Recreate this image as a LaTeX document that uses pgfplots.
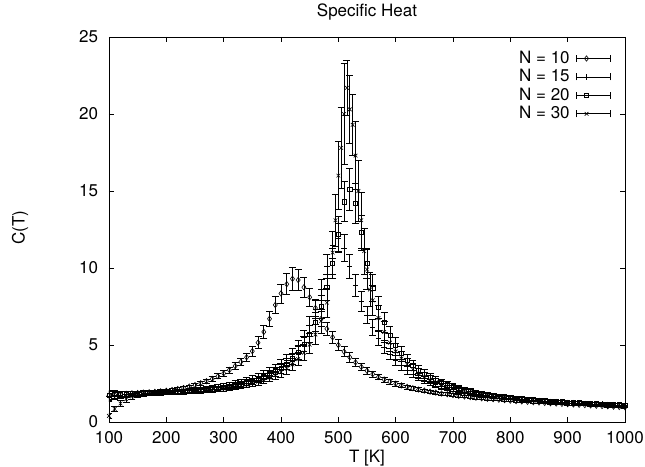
\documentclass[border=0pt]{standalone}
\usepackage{fontspec}
\setmainfont{TeX Gyre Heros}
\usepackage{pgfplots}
\usepackage{pgfplotstable}
\pgfplotsset{compat=1.18}

% N = 10
\pgfplotstableread{
T C e
100 1.72 0.30
110 1.76 0.26
120 1.80 0.22
130 1.83 0.19
140 1.86 0.16
150 1.88 0.14
160 1.91 0.12
170 1.93 0.11
180 1.96 0.10
190 1.99 0.10
200 2.03 0.10
210 2.08 0.10
220 2.14 0.10
230 2.21 0.11
240 2.30 0.11
250 2.40 0.12
260 2.52 0.13
270 2.65 0.14
280 2.80 0.15
290 2.97 0.16
300 3.16 0.18
310 3.38 0.20
320 3.63 0.22
330 3.90 0.25
340 4.20 0.29
350 4.60 0.33
360 5.15 0.38
370 5.85 0.43
380 6.70 0.49
390 7.60 0.56
400 8.35 0.62
410 8.95 0.68
420 9.30 0.72
430 9.22 0.70
440 8.75 0.66
450 8.10 0.60
460 7.40 0.55
470 6.70 0.50
480 6.05 0.45
490 5.50 0.41
500 5.00 0.37
510 4.57 0.33
520 4.20 0.30
530 3.87 0.27
540 3.58 0.24
550 3.33 0.22
560 3.11 0.20
570 2.92 0.18
580 2.76 0.17
590 2.62 0.16
600 2.49 0.15
610 2.38 0.14
620 2.28 0.13
630 2.19 0.12
640 2.11 0.12
650 2.04 0.11
660 1.97 0.11
670 1.91 0.10
680 1.85 0.10
690 1.80 0.10
700 1.75 0.09
710 1.70 0.09
720 1.66 0.09
730 1.62 0.08
740 1.58 0.08
750 1.54 0.08
760 1.51 0.08
770 1.48 0.07
780 1.45 0.07
790 1.42 0.07
800 1.39 0.07
810 1.36 0.07
820 1.34 0.07
830 1.31 0.06
840 1.29 0.06
850 1.27 0.06
860 1.24 0.06
870 1.22 0.06
880 1.20 0.06
890 1.18 0.06
900 1.16 0.06
910 1.14 0.06
920 1.12 0.05
930 1.10 0.05
940 1.08 0.05
950 1.06 0.05
960 1.04 0.05
970 1.02 0.05
980 1.00 0.05
990 0.98 0.05
1000 0.96 0.05
}\nten

% N = 15
\pgfplotstableread{
T C e
100 1.68 0.32
110 1.72 0.28
120 1.76 0.24
130 1.79 0.20
140 1.82 0.17
150 1.84 0.15
160 1.86 0.13
170 1.88 0.12
180 1.90 0.11
190 1.92 0.11
200 1.94 0.11
210 1.96 0.11
220 1.99 0.11
230 2.02 0.11
240 2.05 0.12
250 2.09 0.12
260 2.13 0.12
270 2.18 0.13
280 2.23 0.13
290 2.29 0.14
300 2.36 0.15
310 2.43 0.16
320 2.51 0.17
330 2.60 0.18
340 2.70 0.19
350 2.81 0.20
360 2.94 0.22
370 3.09 0.24
380 3.27 0.26
390 3.48 0.28
400 3.73 0.31
410 4.03 0.34
420 4.40 0.38
430 4.90 0.42
440 5.50 0.47
450 6.30 0.53
460 7.30 0.60
470 8.60 0.68
480 10.10 0.78
490 11.50 0.88
500 11.95 0.92
510 11.30 0.88
520 10.10 0.80
530 8.90 0.72
540 7.85 0.64
550 6.95 0.57
560 6.15 0.50
570 5.45 0.45
580 4.88 0.40
590 4.40 0.36
600 4.00 0.33
610 3.66 0.30
620 3.37 0.27
630 3.12 0.25
640 2.91 0.23
650 2.73 0.21
660 2.57 0.19
670 2.43 0.18
680 2.31 0.17
690 2.20 0.16
700 2.11 0.15
710 2.03 0.14
720 1.96 0.13
730 1.89 0.13
740 1.83 0.12
750 1.78 0.12
760 1.73 0.11
770 1.68 0.11
780 1.64 0.10
790 1.60 0.10
800 1.56 0.10
810 1.52 0.09
820 1.49 0.09
830 1.46 0.09
840 1.43 0.09
850 1.40 0.08
860 1.37 0.08
870 1.35 0.08
880 1.32 0.08
890 1.30 0.08
900 1.28 0.08
910 1.26 0.07
920 1.24 0.07
930 1.22 0.07
940 1.20 0.07
950 1.18 0.07
960 1.16 0.07
970 1.14 0.07
980 1.13 0.07
990 1.11 0.07
1000 1.10 0.07
}\nfifteen

% N = 20
\pgfplotstableread{
T C e
100 1.75 0.30
110 1.78 0.26
120 1.80 0.22
130 1.82 0.19
140 1.84 0.16
150 1.85 0.14
160 1.87 0.12
170 1.88 0.11
180 1.89 0.11
190 1.91 0.11
200 1.92 0.11
210 1.94 0.11
220 1.96 0.11
230 1.98 0.11
240 2.01 0.12
250 2.04 0.12
260 2.07 0.12
270 2.11 0.13
280 2.15 0.13
290 2.20 0.14
300 2.25 0.15
310 2.31 0.16
320 2.38 0.17
330 2.46 0.18
340 2.55 0.19
350 2.65 0.20
360 2.77 0.22
370 2.91 0.24
380 3.07 0.26
390 3.26 0.28
400 3.49 0.31
410 3.77 0.34
420 4.11 0.38
430 4.53 0.43
440 5.05 0.49
450 5.70 0.56
460 6.50 0.64
470 7.50 0.74
480 8.75 0.86
490 10.30 1.00
500 12.20 1.15
510 14.30 1.30
520 15.10 1.35
530 14.20 1.30
540 12.30 1.15
550 10.30 1.00
560 8.70 0.86
570 7.45 0.74
580 6.45 0.64
590 5.65 0.56
600 5.00 0.49
610 4.47 0.43
620 4.03 0.38
630 3.67 0.34
640 3.37 0.31
650 3.12 0.28
660 2.90 0.26
670 2.72 0.24
680 2.56 0.22
690 2.42 0.20
700 2.30 0.19
710 2.19 0.18
720 2.09 0.17
730 2.00 0.16
740 1.92 0.15
750 1.85 0.14
760 1.79 0.13
770 1.73 0.13
780 1.68 0.12
790 1.63 0.12
800 1.59 0.11
810 1.55 0.11
820 1.51 0.10
830 1.48 0.10
840 1.45 0.10
850 1.42 0.09
860 1.39 0.09
870 1.36 0.09
880 1.34 0.09
890 1.31 0.08
900 1.29 0.08
910 1.27 0.08
920 1.25 0.08
930 1.23 0.08
940 1.21 0.08
950 1.19 0.07
960 1.17 0.07
970 1.15 0.07
980 1.14 0.07
990 1.12 0.07
1000 1.11 0.07
}\ntwenty

% N = 30
\pgfplotstableread{
T C e
100 0.40 0.15
110 0.85 0.18
120 1.20 0.20
130 1.48 0.20
140 1.66 0.18
150 1.76 0.16
160 1.82 0.14
170 1.85 0.13
180 1.87 0.12
190 1.88 0.12
200 1.89 0.12
210 1.90 0.12
220 1.92 0.12
230 1.94 0.12
240 1.96 0.12
250 1.98 0.13
260 2.01 0.13
270 2.04 0.13
280 2.08 0.14
290 2.12 0.14
300 2.17 0.15
310 2.22 0.16
320 2.28 0.17
330 2.35 0.18
340 2.43 0.19
350 2.52 0.20
360 2.62 0.22
370 2.74 0.24
380 2.88 0.26
390 3.04 0.28
400 3.23 0.31
410 3.46 0.34
420 3.74 0.38
430 4.08 0.43
440 4.50 0.49
450 5.02 0.56
460 5.68 0.65
470 6.55 0.78
480 7.75 0.95
490 11.00 1.40
495 13.10 1.70
500 16.00 2.20
505 17.80 2.60
510 20.00 3.30
515 21.70 1.80
520 20.30 2.20
525 19.30 2.00
530 17.30 2.20
535 15.00 2.00
540 13.10 1.80
545 11.10 1.50
550 9.90 1.30
555 8.60 1.10
560 7.90 0.95
570 6.75 0.80
580 5.85 0.68
590 5.15 0.58
600 4.58 0.50
610 4.12 0.44
620 3.74 0.39
630 3.42 0.35
640 3.16 0.31
650 2.93 0.28
660 2.74 0.26
670 2.57 0.24
680 2.43 0.22
690 2.31 0.20
700 2.20 0.19
710 2.10 0.18
720 2.01 0.17
730 1.93 0.16
740 1.86 0.15
750 1.80 0.14
760 1.74 0.13
770 1.69 0.13
780 1.64 0.12
790 1.60 0.12
800 1.56 0.11
810 1.52 0.11
820 1.49 0.10
830 1.46 0.10
840 1.43 0.10
850 1.40 0.09
860 1.37 0.09
870 1.35 0.09
880 1.32 0.09
890 1.30 0.08
900 1.28 0.08
910 1.26 0.08
920 1.24 0.08
930 1.22 0.08
940 1.20 0.08
950 1.18 0.07
960 1.17 0.07
970 1.15 0.07
980 1.13 0.07
990 1.12 0.07
1000 1.10 0.07
}\nthirty

\pgfplotsset{
  ebar/.style={
    black, only marks, mark options={solid, line width=0.6pt},
    error bars/y dir=both, error bars/y explicit,
    error bars/error bar style={line width=0.7pt, black},
    error bars/error mark options={rotate=90, mark size=3.5pt, line width=0.7pt, black},
  },
  ebleg/.style={
    legend image code/.code={
      \draw[black, line width=0.7pt] (0pt,0pt) -- (34pt,0pt);
      \draw[black, line width=0.7pt] (0pt,-3.5pt) -- (0pt,3.5pt);
      \draw[black, line width=0.7pt] (34pt,-3.5pt) -- (34pt,3.5pt);
      \draw[##1] plot coordinates {(10pt,0pt)};
    },
  },
}

\begin{document}
\fontsize{17}{19}\selectfont
\begin{tikzpicture}
\begin{axis}[
  scale only axis,
  width=516pt, height=385pt,
  xmin=100, xmax=1000, ymin=0, ymax=25,
  xtick={100,200,...,1000}, ytick={0,5,...,25},
  tick align=inside, major tick length=5pt,
  axis line style={line width=0.8pt},
  every tick/.style={line width=0.8pt, black},
  /pgf/number format/assume math mode=true,
  /pgf/number format/1000 sep={},
  xticklabel style={yshift=-4pt},
  yticklabel style={xshift=-5pt},
  title={Specific Heat},
  title style={at={(axis description cs:0.5,1.05)}, anchor=center, yshift=0pt},
  xlabel={T [K]},
  xlabel style={at={(axis description cs:0.5,-0.0935)}, anchor=center, yshift=0pt},
  ylabel={C(T)},
  ylabel style={at={(axis description cs:-0.1725,0.505)}, anchor=center, xshift=0pt},
  legend plot pos=right,
  legend cell align=right,
  legend style={draw=none, fill=none, at={(axis description cs:0.973,0.968)},
    anchor=north east, inner sep=0pt, row sep=0.5pt, column sep=5pt,
    nodes={inner sep=1.5pt}},
]
\addplot[ebar, ebleg, mark=diamond, mark size=2.7pt] table[x=T, y=C, y error=e] {\nten};
\addlegendentry{N = 10}
\addplot[ebar, ebleg, mark=+, mark size=2.7pt] table[x=T, y=C, y error=e] {\nfifteen};
\addlegendentry{N = 15}
\addplot[ebar, ebleg, mark=square, mark size=2.1pt] table[x=T, y=C, y error=e] {\ntwenty};
\addlegendentry{N = 20}
\addplot[ebar, ebleg, mark=x, mark size=2.6pt] table[x=T, y=C, y error=e] {\nthirty};
\addlegendentry{N = 30}
\end{axis}
\pgfresetboundingbox
\path[use as bounding box] (-109pt,-44pt) rectangle (536pt,422pt);
\end{tikzpicture}
\end{document}
